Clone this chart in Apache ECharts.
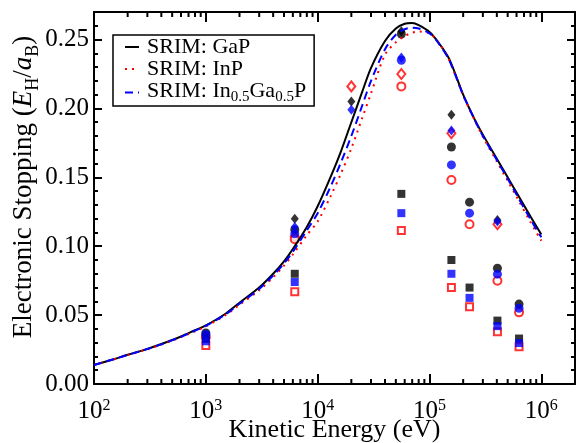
<!DOCTYPE html>
<html>
<head>
<meta charset="utf-8">
<script src="https://cdn.jsdelivr.net/npm/echarts@6/dist/echarts.min.js"></script>
<style>
html, body { margin: 0; padding: 0; background: #fff; }
#myChart { width: 577px; height: 443px; }
</style>
</head>
<body>
<div id="myChart"></div>
<script>
// SRIM curves (energy in eV, stopping in E_H/a_B)
const srimEnergy = [100, 150, 200, 300, 400, 600, 800, 1000, 1500, 2000, 3000, 4000, 5000, 6000, 8000,
  10000, 13000, 16000, 20000, 25000, 30000, 40000, 50000, 60000, 70000, 80000, 100000, 120000,
  150000, 200000, 250000, 300000, 400000, 500000, 600000, 800000, 1000000]
const srimGaP = [0.0138, 0.0180, 0.0212, 0.0255, 0.0290, 0.0345, 0.0390, 0.0425, 0.0510, 0.0590, 0.0700, 0.0800, 0.0890, 0.0980, 0.1140,
  0.1290, 0.1500, 0.1680, 0.1900, 0.2120, 0.2295, 0.2490, 0.2580, 0.2615, 0.2620, 0.2605, 0.2555, 0.2480,
  0.2360, 0.2100, 0.1930, 0.1810, 0.1635, 0.1500, 0.1390, 0.1215, 0.1085]
const srimInP = [0.0138, 0.0179, 0.0210, 0.0252, 0.0286, 0.0340, 0.0383, 0.0418, 0.0500, 0.0575, 0.0680, 0.0775, 0.0860, 0.0940, 0.1080,
  0.1180, 0.1360, 0.1520, 0.1710, 0.1930, 0.2110, 0.2390, 0.2480, 0.2525, 0.2550, 0.2558, 0.2545, 0.2480,
  0.2350, 0.2095, 0.1925, 0.1795, 0.1615, 0.1475, 0.1360, 0.1175, 0.1040]
const srimInGaP = [0.0138, 0.0180, 0.0211, 0.0254, 0.0288, 0.0343, 0.0387, 0.0422, 0.0505, 0.0582, 0.0690, 0.0788, 0.0875, 0.0960, 0.1115,
  0.1240, 0.1430, 0.1600, 0.1800, 0.2020, 0.2200, 0.2430, 0.2535, 0.2575, 0.2585, 0.2580, 0.2545, 0.2475,
  0.2350, 0.2098, 0.1928, 0.1800, 0.1625, 0.1490, 0.1375, 0.1195, 0.1065]

// calculated stopping, diamonds
const diamondEnergy = [6240, 20000, 56000, 157000, 405000]
const diamondGaP = [0.120, 0.205, 0.256, 0.1955, 0.119]
const diamondInP = [0.107, 0.216, 0.225, 0.182, 0.116]
const diamondInGaP = [0.114, 0.199, 0.237, 0.184, 0.118]

// calculated stopping, circles and squares
const pointEnergy = [1000, 6240, 56000, 157000, 228000, 405000, 632000]
const circleGaP = [0.037, 0.112, 0.254, 0.172, 0.132, 0.084, 0.058]
const circleInP = [0.034, 0.105, 0.216, 0.148, 0.116, 0.075, 0.052]
const circleInGaP = [0.036, 0.109, 0.235, 0.159, 0.124, 0.0797, 0.055]
const squareGaP = [0.033, 0.080, 0.138, 0.090, 0.070, 0.046, 0.033]
const squareInP = [0.028, 0.067, 0.1115, 0.070, 0.056, 0.038, 0.027]
const squareInGaP = [0.031, 0.074, 0.124, 0.080, 0.0625, 0.042, 0.0297]

const xMin = 100
const xMax = 2000000
const yMax = 0.27
const font = 'Liberation Serif'

// log minor ticks 2..9 x 10^n
const xMinorTicks = []
for (let n = 2; n <= 6; n++) {
  for (let k = 2; k <= 9; k++) {
    const v = k * Math.pow(10, n)
    if (v < xMax) xMinorTicks.push(v)
  }
}

const zip = (xs, ys) => xs.map((x, i) => [x, ys[i]])
const isMajor = (v, step) => Math.abs(v / step - Math.round(v / step)) < 1e-6

const ctx = document.getElementById('myChart')
const chart = echarts.init(ctx, null, { renderer: 'canvas' })

const axisLine = { show: true, onZero: false, lineStyle: { color: '#000', width: 2 } }
const noLine = { show: false, onZero: false }
const tickStyle = { color: '#000', width: 2 }

function yAxisOf(position, interval, len, labels) {
  return {
    type: 'value',
    position: position,
    min: 0,
    max: yMax,
    interval: interval,
    axisLine: labels !== null ? axisLine : noLine,
    axisTick: { show: true, inside: true, length: len, lineStyle: tickStyle },
    axisLabel: labels ? labels : { show: false },
    splitLine: { show: false },
  }
}

const yLabels = {
  show: true,
  color: '#000',
  fontFamily: font,
  fontSize: 25,
  margin: 5,
  showMaxLabel: false,
  formatter: v => (isMajor(v, 0.05) && v < 0.26 ? v.toFixed(2) : ''),
}

const yMain = yAxisOf('left', 0.05, 8, yLabels)
yMain.name = '{m|Electronic Stopping (}{i|E}{sub|H}{m|/}{i|a}{sub|B}{m|)}'
yMain.nameLocation = 'middle'
yMain.nameGap = 52
yMain.nameMoveOverlap = false
yMain.nameTextStyle = {
  color: '#000',
  fontFamily: font,
  fontSize: 27,
  padding: [0, 0, 0, 22],
  rich: {
    m: { fontFamily: font, fontSize: 27, color: '#000', lineHeight: 27, verticalAlign: 'top' },
    i: { fontFamily: font, fontSize: 27, fontStyle: 'italic', color: '#000', lineHeight: 27, verticalAlign: 'top' },
    sub: { fontFamily: font, fontSize: 18, color: '#000', lineHeight: 32, verticalAlign: 'bottom' },
  },
}

chart.setOption({
  animation: false,
  backgroundColor: '#fff',
  grid: { left: 94, right: 2, top: 12, bottom: 59, containLabel: false, outerBoundsMode: 'none' },
  legend: {
    data: ['SRIM: GaP', 'SRIM: InP', 'SRIM: InGaP'],
    orient: 'vertical',
    left: 113,
    top: 35,
    width: 200,
    padding: [1, 8, 1, 11],
    borderColor: '#000',
    borderWidth: 1.5,
    itemWidth: 14,
    itemHeight: 10,
    itemGap: 0,
    selectedMode: false,
    itemStyle: { opacity: 0 },
    textStyle: {
      color: '#000',
      fontFamily: font,
      fontSize: 22,
      lineHeight: 20,
      padding: [0, 0, 0, 3],
      rich: {
        m: { fontFamily: font, fontSize: 22, color: '#000', lineHeight: 20, verticalAlign: 'top' },
        sub: { fontFamily: font, fontSize: 15, color: '#000', lineHeight: 25, verticalAlign: 'bottom' },
      },
    },
    formatter: name => (name === 'SRIM: InGaP' ? '{m|SRIM: In}{sub|0.5}{m|Ga}{sub|0.5}{m|P}' : name),
  },
  xAxis: [
    {
      type: 'log',
      logBase: 10,
      min: xMin,
      max: xMax,
      position: 'bottom',
      axisLine: axisLine,
      axisTick: { show: true, inside: true, length: 10, lineStyle: tickStyle },
      axisLabel: {
        color: '#000',
        fontFamily: font,
        fontSize: 25,
        margin: 14,
        showMinLabel: true,
        showMaxLabel: false,
        formatter: v => {
          const e = Math.round(Math.log10(v))
          if (Math.abs(Math.pow(10, e) - v) / v > 1e-6) return ''
          return '10{sup|' + e + '}'
        },
        rich: {
          sup: { fontFamily: font, fontSize: 16, color: '#000', verticalAlign: 'top', padding: [0, 0, 10, 0] },
        },
      },
      splitLine: { show: false },
      name: 'Kinetic Energy (eV)',
      nameLocation: 'middle',
      nameGap: 33,
      nameMoveOverlap: false,
      nameTextStyle: { color: '#000', fontFamily: font, fontSize: 26 },
    },
    {
      type: 'log',
      logBase: 10,
      min: xMin,
      max: xMax,
      position: 'top',
      axisLine: axisLine,
      axisTick: { show: true, inside: true, length: 10, lineStyle: tickStyle },
      axisLabel: { show: false },
      splitLine: { show: false },
    },
  ],
  yAxis: [
    yMain,
    yAxisOf('left', 0.01, 4, null),
    yAxisOf('right', 0.05, 8, false),
    yAxisOf('right', 0.01, 4, null),
  ],
  series: [
    {
      // minor ticks of the log axis, top and bottom
      type: 'custom',
      silent: true,
      clip: false,
      z: 10,
      data: xMinorTicks.map(v => [v, 0]),
      encode: { x: 0, y: 1 },
      renderItem: (params, api) => {
        const b = api.coord([api.value(0), 0])
        const t = api.coord([api.value(0), yMax])
        const st = { stroke: '#000', lineWidth: 2 }
        return {
          type: 'group',
          children: [
            { type: 'line', shape: { x1: b[0], y1: b[1], x2: b[0], y2: b[1] - 5 }, style: st },
            { type: 'line', shape: { x1: t[0], y1: t[1], x2: t[0], y2: t[1] + 5 }, style: st },
          ],
        }
      },
    },
    {
      name: 'SRIM: GaP',
      type: 'line',
      symbol: 'none',
      smooth: 0.3,
      lineStyle: { color: '#000', width: 2 },
      itemStyle: { color: '#000' },
      data: zip(srimEnergy, srimGaP),
    },
    {
      name: 'SRIM: InP',
      type: 'line',
      symbol: 'none',
      smooth: 0.3,
      lineStyle: { color: '#ff0000', width: 2, type: [2, 5] },
      itemStyle: { color: '#ff0000' },
      data: zip(srimEnergy, srimInP),
    },
    {
      name: 'SRIM: InGaP',
      type: 'line',
      symbol: 'none',
      smooth: 0.3,
      lineStyle: { color: '#0000ff', width: 2, type: [8, 5] },
      itemStyle: { color: '#0000ff' },
      data: zip(srimEnergy, srimInGaP),
    },
    // InP (open red markers)
    { type: 'scatter', symbol: 'diamond', symbolSize: [8, 10], itemStyle: { color: '#fff', borderColor: '#ff0000', borderWidth: 2 }, data: zip(diamondEnergy, diamondInP) },
    { type: 'scatter', symbol: 'circle', symbolSize: 8, itemStyle: { color: '#fff', borderColor: '#ff0000', borderWidth: 2 }, data: zip(pointEnergy, circleInP) },
    { type: 'scatter', symbol: 'rect', symbolSize: 7, itemStyle: { color: '#fff', borderColor: '#ff0000', borderWidth: 2 }, data: zip(pointEnergy, squareInP) },
    // GaP (filled black markers)
    { type: 'scatter', symbol: 'diamond', symbolSize: [8, 10], itemStyle: { color: '#000' }, data: zip(diamondEnergy, diamondGaP) },
    { type: 'scatter', symbol: 'circle', symbolSize: 9, itemStyle: { color: '#000' }, data: zip(pointEnergy, circleGaP) },
    { type: 'scatter', symbol: 'rect', symbolSize: 8, itemStyle: { color: '#000' }, data: zip(pointEnergy, squareGaP) },
    // In0.5Ga0.5P (filled blue markers)
    { type: 'scatter', symbol: 'diamond', symbolSize: [8, 10], itemStyle: { color: '#0000ff' }, data: zip(diamondEnergy, diamondInGaP) },
    { type: 'scatter', symbol: 'circle', symbolSize: 9, itemStyle: { color: '#0000ff' }, data: zip(pointEnergy, circleInGaP) },
    { type: 'scatter', symbol: 'rect', symbolSize: 8, itemStyle: { color: '#0000ff' }, data: zip(pointEnergy, squareInGaP) },
  ],
})
</script>
</body>
</html>
